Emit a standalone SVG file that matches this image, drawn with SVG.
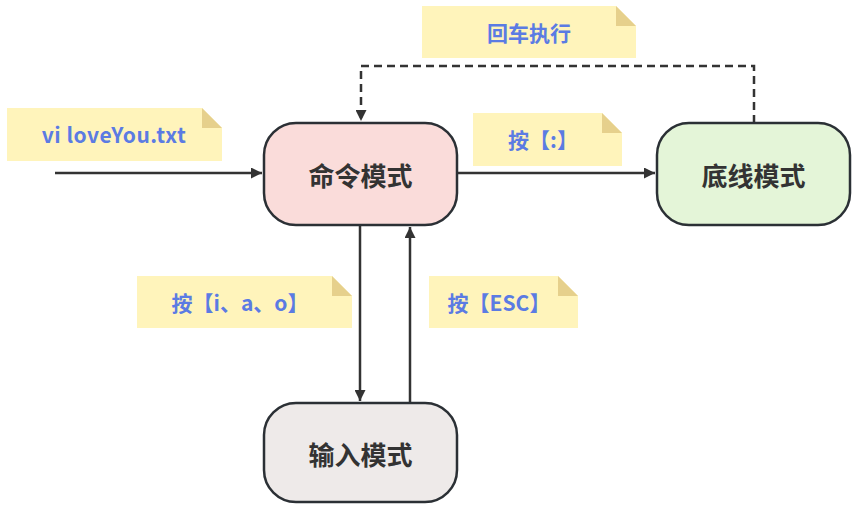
<svg xmlns="http://www.w3.org/2000/svg" width="854" height="513" viewBox="0 0 854 513">
<style>
.node{stroke:#2b3035;stroke-width:2.5}
.nt{font-family:"Noto Sans CJK SC","Noto Sans",sans-serif;font-weight:bold;font-size:26px;fill:#333;text-anchor:middle;dominant-baseline:central}
.note{fill:#fff4bb}
.fold{fill:#e6d08c}
.lt{font-family:"Noto Sans CJK SC","Noto Sans",sans-serif;font-weight:bold;font-size:21px;fill:#5b7be3;text-anchor:middle;dominant-baseline:central}
.edge{stroke:#333;stroke-width:2.5;fill:none}
</style>
<defs>
<marker id="ah" viewBox="0 0 10 10" refX="10" refY="5" markerWidth="11" markerHeight="11" markerUnits="userSpaceOnUse" orient="auto">
<path d="M0,0 L10,5 L0,10 Z" fill="#333"/>
</marker>
</defs>
<g id="edges">
<path class="edge" d="M55,173 H262" marker-end="url(#ah)"/>
<path class="edge" d="M457,173 H655" marker-end="url(#ah)"/>
<path class="edge" d="M754,123 V66 H361 V121" stroke-dasharray="8,5" marker-end="url(#ah)"/>
<path class="edge" d="M360,225 V401" marker-end="url(#ah)"/>
<path class="edge" d="M410,403 V227" marker-end="url(#ah)"/>
</g>
<g id="note-vi">
<path class="note" d="M7,108 H202 L222,128 V161 H7 Z"/>
<path class="fold" d="M202,108 L222,128 H202 Z"/>
<text class="lt" x="114" y="134" font-size="22" letter-spacing="0.5">vi loveYou.txt</text>
</g>
<g id="note-colon">
<path class="note" d="M473,113 H602 L622,133 V166 H473 Z"/>
<path class="fold" d="M602,113 L622,133 H602 Z"/>
<text class="lt" x="543" y="139">按【:】</text>
</g>
<g id="note-enter">
<path class="note" d="M422,6 H616 L636,26 V58 H422 Z"/>
<path class="fold" d="M616,6 L636,26 H616 Z"/>
<text class="lt" x="529" y="32">回车执行</text>
</g>
<g id="note-iao">
<path class="note" d="M137,276 H332 L352,296 V328 H137 Z"/>
<path class="fold" d="M332,276 L352,296 H332 Z"/>
<text class="lt" x="240" y="302">按【i、a、o】</text>
</g>
<g id="note-esc">
<path class="note" d="M429,276 H558 L578,296 V328 H429 Z"/>
<path class="fold" d="M558,276 L578,296 H558 Z"/>
<text class="lt" x="499" y="302">按【ESC】</text>
</g>
<g id="cmd">
<rect class="node" x="264" y="123" width="193" height="102" rx="32" fill="#fadcda"/>
<text class="nt" x="360.5" y="174">命令模式</text>
</g>
<g id="lastline">
<rect class="node" x="657" y="123" width="193" height="102" rx="32" fill="#e4f5d8"/>
<text class="nt" x="753.5" y="174">底线模式</text>
</g>
<g id="input">
<rect class="node" x="264" y="403" width="193" height="99" rx="32" fill="#eeeae9"/>
<text class="nt" x="360.5" y="453">输入模式</text>
</g>
</svg>
